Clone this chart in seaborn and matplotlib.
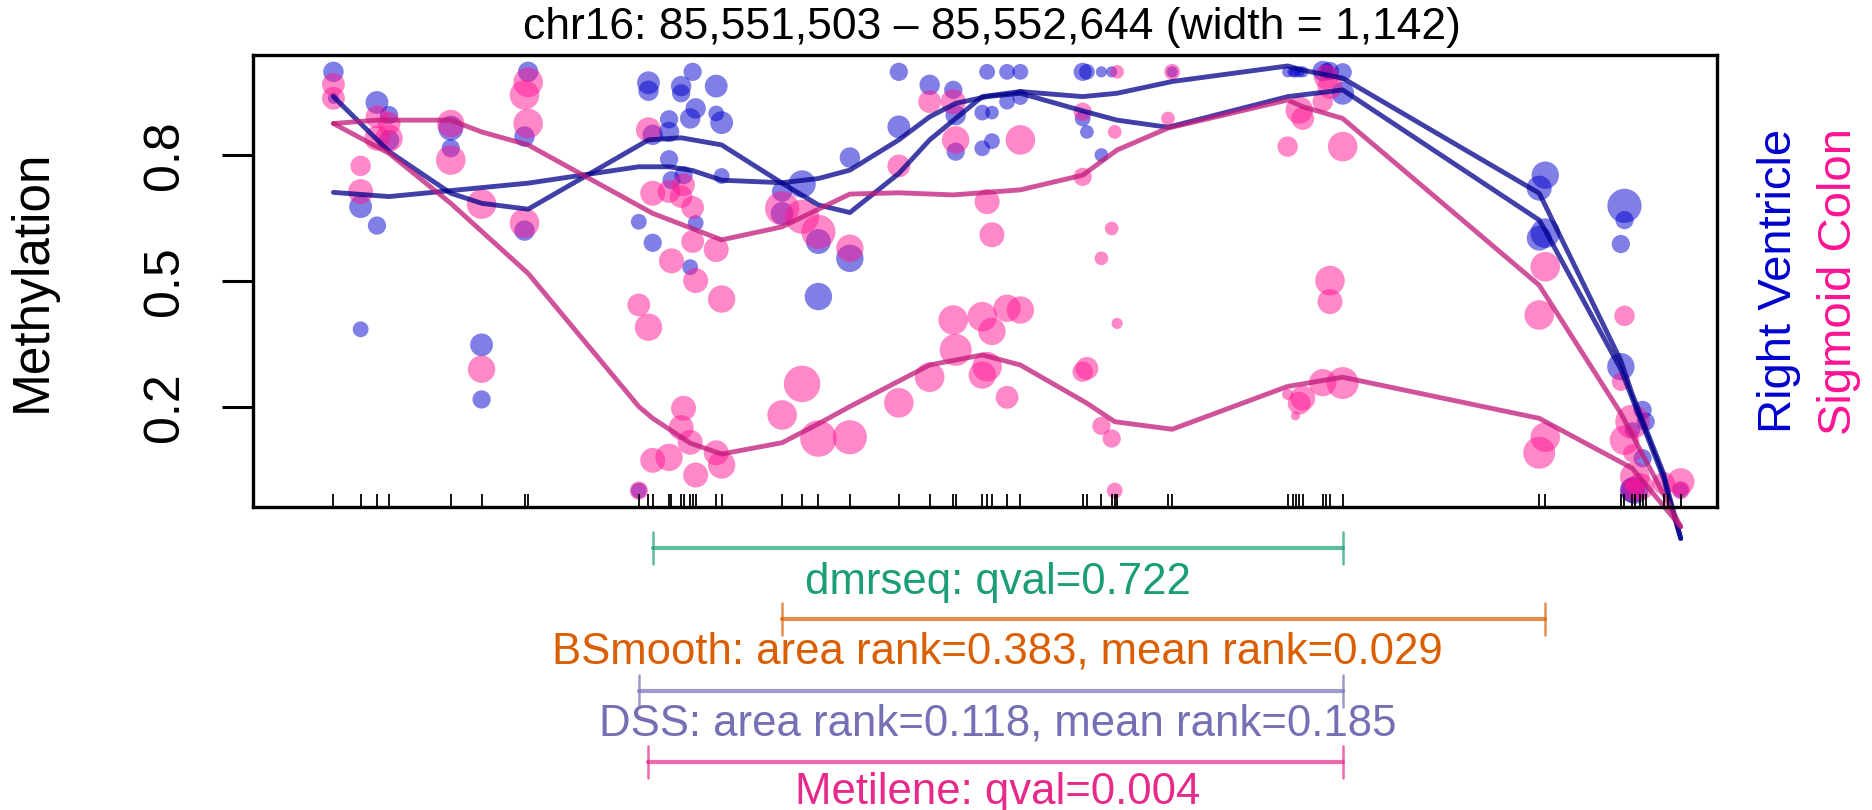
import numpy as np
import pandas as pd
import matplotlib
matplotlib.use("Agg")
import matplotlib.pyplot as plt
import seaborn as sns

# REGION
chrom = "chr16"
region_start = 85551503
region_end = 85552644

# CpG positions (bp offset from region start)
cpg_offset = [-528, -483, -456, -436, -334, -283, -212, -206, -23, -7, 0, 27, 31, 47, 51, 62, 66, 71,
              105, 114, 214, 247, 274, 326, 407, 458, 497, 501, 545, 553, 561, 586, 608, 711, 718,
              742, 759, 764, 768, 852, 859, 1050, 1059, 1063, 1069, 1075, 1108, 1114, 1120, 1141,
              1466, 1476, 1601, 1607, 1620, 1624, 1633, 1637, 1642, 1672, 1679, 1700]

# RAW METHYLATION - Right Ventricle (offset, meth, coverage)
rv_pos = [-528, -528, -456, -436, -436, -483, -456, -483, -283, -283, -334, -334, -206, -212, -212,
          -7, -7, 47, 47, 66, 105, 71, 62, 27, 27, 0, 105, 114, 27, 114, 31, 51, -23, 71, 0, 62,
          247, 214, 214, 274, 326, 274, 326, 407, 407, 458, 497, 501, 501, 553, 586, 608, 545, 561,
          586, 608, 561, 545, 711, 718, 742, 759, 711, 718, 742, 859, 1050, 1059, 1063, 1069, 1075,
          1108, 1120, 1141, 1141, 1114, 1476, 1466, 1476, 1466, 1607, 1607, 1601, 1601, 1637, 1642,
          1620, 1637, 1624, 1620, 1700, -23]
rv_meth = [0.998, 0.935, 0.925, 0.895, 0.835, 0.677, 0.632, 0.385, 0.348, 0.218, 0.864, 0.816,
           0.998, 0.844, 0.620, 0.972, 0.953, 0.964, 0.947, 0.998, 0.964, 0.911, 0.887, 0.885,
           0.855, 0.848, 0.899, 0.877, 0.790, 0.750, 0.740, 0.752, 0.641, 0.638, 0.591, 0.533,
           0.731, 0.661, 0.713, 0.594, 0.554, 0.463, 0.794, 0.998, 0.867, 0.967, 0.955, 0.895,
           0.808, 0.998, 0.998, 0.998, 0.901, 0.901, 0.927, 0.938, 0.833, 0.816, 0.998, 0.998,
           0.998, 0.998, 0.887, 0.855, 0.800, 0.998, 0.998, 0.998, 0.998, 0.998, 0.998, 1.0, 1.0,
           0.997, 0.947, 1.0, 0.752, 0.721, 0.614, 0.602, 0.679, 0.645, 0.588, 0.296, 0.193, 0.165,
           0.145, 0.078, 0.002, 0.002, 0.002, 0.001]
rv_cov = [20, 6, 25, 16, 20, 25, 16, 12, 25, 16, 30, 16, 20, 20, 20, 25, 20, 20, 16, 16, 25, 20, 20,
          16, 20, 20, 12, 25, 16, 12, 16, 16, 12, 12, 16, 12, 36, 25, 20, 30, 36, 36, 20, 16, 25,
          20, 16, 20, 16, 12, 12, 12, 12, 9, 12, 12, 12, 12, 16, 12, 6, 6, 12, 9, 9, 6, 6, 6, 6, 6,
          6, 20, 16, 16, 25, 12, 36, 30, 42, 30, 56, 16, 16, 36, 16, 16, 12, 16, 36, 30, 12, 12]

# RAW METHYLATION - Sigmoid Colon
sc_pos = [-528, -528, -456, -456, -436, -436, -483, -483, -283, -334, -334, -283, -206, -212, -206,
          -212, -7, 0, 27, 51, 47, 66, 66, 105, 31, 71, 114, -23, -7, 214, 247, 274, 326, 407, 458,
          497, 501, 608, 553, 561, 711, 764, 711, 759, 742, 768, 768, 859, 852, 1114, 1120, 1108,
          1069, 1075, 1050, 1141, 1120, 1120, 1476, 1466, 1607, 497, 545, 586, 608, 561, 501, 458,
          407, 553, 545, 586, 718, 711, 742, 759, 764, 1075, 1069, 1050, 1063, 1108, 1141, 1476,
          1466, 1620, 1607, 1620, 1624, 1633, 1620, 1700, 1672, 1700, 1601, 51, 47, 62, 0, 27, 105,
          114, 71, -23, 214, 247, 274, 326]
sc_meth = [0.968, 0.935, 0.891, 0.840, 0.875, 0.840, 0.774, 0.713, 0.290, 0.875, 0.788, 0.683,
           0.973, 0.943, 0.875, 0.638, 0.860, 0.709, 0.713, 0.729, 0.701, 0.675, 0.594, 0.575,
           0.548, 0.501, 0.457, 0.443, 0.390, 0.673, 0.653, 0.617, 0.578, 0.774, 0.927, 0.927,
           0.836, 0.836, 0.689, 0.610, 0.903, 0.855, 0.748, 0.625, 0.554, 0.399, 0.998, 0.998,
           0.887, 0.986, 0.963, 0.927, 0.907, 0.887, 0.820, 0.820, 0.501, 0.451, 0.534, 0.419,
           0.417, 0.407, 0.415, 0.435, 0.431, 0.380, 0.336, 0.271, 0.210, 0.296, 0.276, 0.223,
           0.292, 0.284, 0.155, 0.125, 0.001, 0.221, 0.209, 0.230, 0.179, 0.258, 0.257, 0.128,
           0.091, 0.165, 0.121, 0.090, 0.034, 0.010, 0.002, 0.022, 0.018, 0.002, 0.260, 0.197,
           0.151, 0.116, 0.073, 0.080, 0.091, 0.062, 0.038, 0.001, 0.181, 0.255, 0.125, 0.128]
sc_cov = [25, 25, 25, 30, 25, 36, 20, 30, 36, 36, 42, 42, 42, 42, 42, 42, 30, 30, 25, 25, 25, 25,
          25, 30, 30, 30, 36, 25, 36, 56, 56, 56, 36, 25, 25, 30, 36, 42, 30, 30, 16, 9, 16, 9, 9,
          6, 9, 12, 9, 30, 30, 20, 36, 25, 20, 42, 42, 30, 42, 42, 20, 42, 42, 36, 36, 36, 49, 42,
          42, 42, 36, 25, 25, 20, 16, 16, 12, 30, 25, 6, 4, 36, 49, 42, 49, 56, 42, 16, 42, 36, 25,
          36, 25, 16, 16, 30, 30, 30, 30, 36, 30, 36, 30, 16, 42, 64, 64, 56]

# SMOOTHED METHYLATION (one line per sample)
rv1_pos = [-528, -436, -334, -283, -206, -7, 47, 114, 214, 274, 326, 407, 458, 545, 608, 711, 768,
           859, 1050, 1075, 1141, 1466, 1476, 1601, 1620, 1642, 1672, 1679, 1700]
rv1_meth = [0.939, 0.808, 0.709, 0.685, 0.671, 0.836, 0.841, 0.824, 0.733, 0.681, 0.663, 0.756,
            0.836, 0.939, 0.951, 0.939, 0.947, 0.975, 1.012, 1.002, 0.983, 0.709, 0.68, 0.31,
            0.23, 0.15, 0.04, 0.0, -0.113]
rv2_pos = [-528, -436, -206, -23, 27, 66, 114, 214, 274, 326, 407, 458, 501, 553, 608, 711, 768,
           852, 1050, 1141, 1466, 1476, 1601, 1620, 1642, 1672, 1679, 1700]
rv2_meth = [0.711, 0.701, 0.733, 0.772, 0.772, 0.763, 0.740, 0.734, 0.744, 0.764, 0.836, 0.891,
            0.923, 0.939, 0.947, 0.905, 0.883, 0.866, 0.939, 0.955, 0.645, 0.62, 0.29, 0.22,
            0.14, 0.03, -0.01, -0.113]
sc1_pos = [-528, -456, -334, -283, -206, 0, 114, 214, 326, 407, 497, 608, 711, 768, 852, 1050,
           1075, 1141, 1466, 1601, 1700]
sc1_meth = [0.875, 0.883, 0.883, 0.855, 0.824, 0.661, 0.598, 0.629, 0.707, 0.710, 0.705, 0.717,
            0.752, 0.812, 0.864, 0.931, 0.915, 0.887, 0.490, 0.185, -0.085]
sc2_pos = [-528, -436, -334, -206, -23, 0, 62, 114, 214, 274, 326, 458, 545, 608, 718, 764, 859,
           1050, 1141, 1466, 1620, 1700]
sc2_meth = [0.875, 0.804, 0.685, 0.518, 0.201, 0.173, 0.114, 0.088, 0.115, 0.160, 0.201, 0.300,
            0.324, 0.300, 0.209, 0.165, 0.147, 0.249, 0.271, 0.173, 0.054, -0.085]

# DMR CALLS (start/end offsets, label)
dmr_methods = ["dmrseq", "BSmooth", "DSS", "Metilene"]
dmr_start = [0, 214, -23, -7]
dmr_end = [1141, 1476, 1141, 1141]
dmr_labels = ["dmrseq: qval=0.722",
              "BSmooth: area rank=0.383, mean rank=0.029",
              "DSS: area rank=0.118, mean rank=0.185",
              "Metilene: qval=0.004"]
dmr_colors = ["#1B9E77", "#D95F02", "#7570B3", "#E7298A"]

tissue_colors = {"Right Ventricle": "#0000CD", "Sigmoid Colon": "#FF1493"}
line_colors = {"Right Ventricle": "#00008B", "Sigmoid Colon": "#C0187A"}

# build data frames
pts = pd.concat([
    pd.DataFrame({"pos": rv_pos, "meth": rv_meth, "cov": rv_cov, "tissue": "Right Ventricle"}),
    pd.DataFrame({"pos": sc_pos, "meth": sc_meth, "cov": sc_cov, "tissue": "Sigmoid Colon"}),
], ignore_index=True)

smooth = pd.concat([
    pd.DataFrame({"pos": rv1_pos, "meth": rv1_meth, "sample": "RV1", "tissue": "Right Ventricle"}),
    pd.DataFrame({"pos": rv2_pos, "meth": rv2_meth, "sample": "RV2", "tissue": "Right Ventricle"}),
    pd.DataFrame({"pos": sc1_pos, "meth": sc1_meth, "sample": "SC1", "tissue": "Sigmoid Colon"}),
    pd.DataFrame({"pos": sc2_pos, "meth": sc2_meth, "sample": "SC2", "tissue": "Sigmoid Colon"}),
], ignore_index=True)

# PLOT
sns.set_style("white")
plt.rcParams["font.family"] = ["Liberation Sans", "DejaVu Sans"]
plt.rcParams["text.color"] = "black"
plt.rcParams["ytick.color"] = "black"
plt.rcParams["axes.labelcolor"] = "black"

W, H = 1872, 810
fig = plt.figure(figsize=(W / 100, H / 100), dpi=100)
ax = fig.add_axes([253 / W, 1 - 507 / H, 1464 / W, 452 / H])

sns.scatterplot(data=pts, x="pos", y="meth", hue="tissue", palette=tissue_colors,
                size="cov", sizes=(0, 1080), size_norm=(0, 100), alpha=0.5,
                linewidth=0, legend=False, ax=ax)

sns.lineplot(data=smooth, x="pos", y="meth", hue="tissue", units="sample",
             estimator=None, sort=False, palette=line_colors, alpha=0.75,
             linewidth=3.5, legend=False, ax=ax)
for ln in ax.lines:
    ln.set_clip_on(False)

sns.rugplot(x=cpg_offset, height=0.029, color="black", linewidth=1.3,
            expand_margins=False, ax=ax)

ax.set_xlim(-661, 1760)
ax.set_ylim(-0.0381, 1.0381)
ax.set_xticks([])
ax.set_yticks([0.2, 0.5, 0.8])
ax.set_yticklabels(["0.2", "0.5", "0.8"])
ax.tick_params(axis="y", length=22, width=2.2, labelsize=36, labelrotation=90, pad=25,
               left=True, colors="black")
for lab in ax.get_yticklabels():
    lab.set_va("center")
for sp in ax.spines.values():
    sp.set_linewidth(2.4)
    sp.set_color("black")
ax.set_xlabel("")
ax.set_ylabel("")

# DMR brackets below the axis
bracket_y = [-0.135, -0.305, -0.476, -0.646]
label_y = [-0.217, -0.383, -0.554, -0.719]
d = 0.038
label_x = (0 + (region_end - region_start)) / 2
for s, e, lab, col, by, ly in zip(dmr_start, dmr_end, dmr_labels, dmr_colors, bracket_y, label_y):
    ax.plot([s, e], [by, by], color=col, alpha=0.7, linewidth=3.0, clip_on=False)
    ax.plot([s, s], [by - d, by + d], color=col, alpha=0.7, linewidth=1.8, clip_on=False)
    ax.plot([e, e], [by - d, by + d], color=col, alpha=0.7, linewidth=1.8, clip_on=False)
    ax.text(label_x, ly, lab, color=col, fontsize=31.5, ha="center", va="center", clip_on=False)

width = region_end - region_start + 1
fig.text(991.5 / W, 1 - 27 / H,
         f"{chrom}: {region_start:,} \u2013 {region_end:,} (width = {width:,})",
         fontsize=32, ha="center", va="center")
fig.text(32 / W, 1 - 281 / H, "Methylation", rotation=90, fontsize=37, ha="center", va="center")
fig.text(1779 / W, 1 - 281 / H, "Right Ventricle", rotation=90, fontsize=34,
         color="#0000CD", ha="center", va="center")
fig.text(1839 / W, 1 - 281 / H, "Sigmoid Colon", rotation=90, fontsize=34,
         color="#FF1493", ha="center", va="center")

plt.savefig("out.png", dpi=100)
